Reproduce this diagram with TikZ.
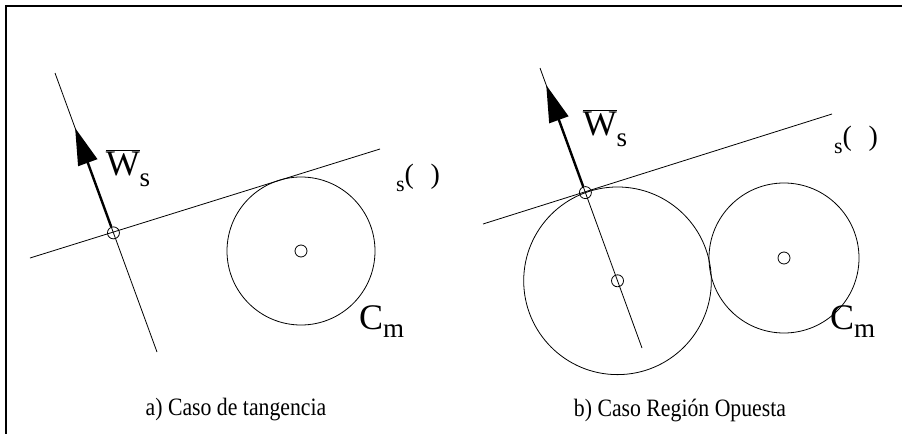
\documentclass[tikz,border=0pt]{standalone}
\usepackage{fontspec}
\setmainfont{Liberation Serif}
\usetikzlibrary{calc,arrows.meta,through}
\newcommand{\wsub}{$\overline{\mbox{W}}$\raisebox{-0.3em}{\fontsize{27}{28}\selectfont s}}
\newcommand{\cmsub}{C\raisebox{-0.22em}{\fontsize{27}{28}\selectfont m}}
\newcommand{\sparen}{\raisebox{-0.3em}{\fontsize{22}{24}\selectfont s}(\hspace{0.6em})}

\begin{document}
\begin{tikzpicture}[
  x=1pt,y=-1pt,
  fine/.style={line width=0.8pt},
  frame/.style={line width=1.6pt},
  hole/.style={draw,circle,inner sep=0pt,minimum size=12pt,line width=0.8pt},
  ring/.style={draw,circle,inner sep=0pt,outer sep=0pt,line width=0.8pt},
  vec/.style={-{Triangle[length=37pt,width=20pt]},line width=2.4pt},
  lbl/.style={inner sep=0pt,font=\fontsize{36}{40}\selectfont},
  small lbl/.style={inner sep=0pt,font=\fontsize{28}{30}\selectfont},
  caption/.style={inner sep=0pt,font=\fontsize{25}{28}\selectfont}
]
\useasboundingbox (0,0) rectangle (902,434);
% frame, only top and left are visible
\coordinate (fTL) at (6,6);
\coordinate (fTR) at (902,6);
\coordinate (fBL) at (6,434);
\draw[frame] (fTR) -- (fTL) -- (fBL);

% a) tangencia
\coordinate (nA1) at (55,73);
\coordinate (nA2) at (157,352);
\coordinate (tgA1) at (30,258);
\coordinate (tgA2) at (380,149);
\coordinate (tipA) at ($(nA1)!0.197!(nA2)$);
\node[hole] (pA) at ($(nA1)!0.573!(nA2)$) {};
\node[ring,minimum size=148pt] (cmA) at (301,251) {};
\node[hole] (ctrA) at (cmA.center) {};
\draw[fine] (nA1) -- (nA2);
\draw[fine] (tgA1) -- (tgA2);
\draw[vec] (pA) -- (tipA);
\node[lbl] (wA) at (128,168) {\wsub};
\node[small lbl] (sA) at (418,178) {\sparen};
\node[lbl,anchor=west] (cA) at (359,322) {\cmsub};
\node[caption] (capA) at (236,410) {\scalebox{0.87}[1]{a) Caso de tangencia}};

% b) region opuesta
\coordinate (nB1) at (540,68);
\coordinate (nB2) at (642,348);
\coordinate (tgB1) at (483,224);
\coordinate (tgB2) at (832,114);
\coordinate (tipB) at ($(nB1)!0.061!(nB2)$);
\node[hole] (pB) at ($(nB1)!0.445!(nB2)$) {};
\coordinate (qB) at ($(nB1)!0.76!(nB2)$);
\node[ring,circle through=(pB)] (bigB) at (qB) {};
\node[hole] (qBo) at (qB) {};
\node[ring,minimum size=150pt] (cmB) at (784,258) {};
\node[hole] (ctrB) at (cmB.center) {};
\draw[fine] (nB1) -- (nB2);
\draw[fine] (tgB1) -- (tgB2);
\draw[vec] (pB) -- (tipB);
\node[lbl] (wB) at (605,128) {\wsub};
\node[small lbl] (sB) at (856,140) {\sparen};
\node[lbl,anchor=west] (cB) at (830,322) {\cmsub};
\node[caption] (capB) at (680,410) {\scalebox{0.87}[1]{b) Caso Región Opuesta}};
\end{tikzpicture}
\end{document}
